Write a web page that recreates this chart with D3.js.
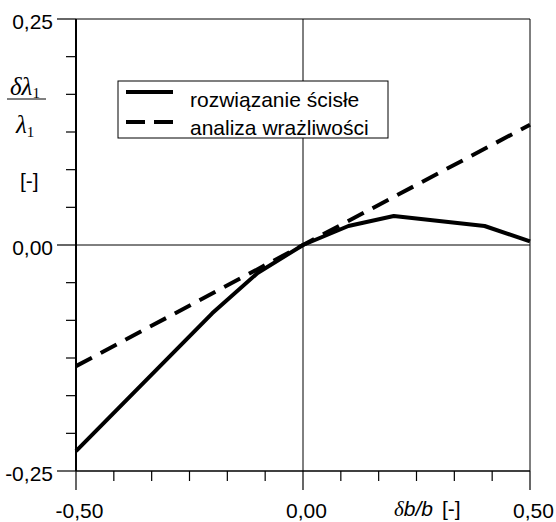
<!DOCTYPE html>
<html>
<head>
<meta charset="utf-8">
<script src="https://cdn.jsdelivr.net/npm/d3@7/dist/d3.min.js"></script>
<style>
  html, body { margin: 0; padding: 0; background: #fff; }
  svg { display: block; }
</style>
</head>
<body>
<svg id="chart" width="556" height="522"></svg>
<script>
// Relative change of the first eigenvalue vs. relative change of b
const exactX = [-0.5, -0.2, -0.1, 0.0, 0.1, 0.2, 0.4, 0.5];
const exactY = [-0.228, -0.0756, -0.031, 0.0, 0.021, 0.032, 0.021, 0.004];
const sensX = [-0.5, 0.0, 0.5];
const sensY = [-0.134, 0.0, 0.133];

const legendLabels = ["rozwiązanie ścisłe", "analiza wrażliwości"];
const xMajorTicks = [-0.5, 0.0, 0.5];
const yMajorTicks = [-0.25, 0.0, 0.25];
const minorDivisions = 12;

const svg = d3.select("#chart");
const plotLeft = 76, plotRight = 530, plotTop = 19, plotBottom = 471;

const x = d3.scaleLinear().domain([-0.5, 0.5]).range([plotLeft, plotRight]);
const y = d3.scaleLinear().domain([-0.25, 0.25]).range([plotBottom, plotTop]);

const fmt = v => d3.format(".2f")(v).replace(".", ",").replace("−", "-");
const sans = "'Liberation Sans', Arial, sans-serif";
const serif = "'Liberation Serif', 'Times New Roman', serif";
const fontSize = 21;

const xMinor = d3.range(minorDivisions + 1).map(i => -0.5 + i / minorDivisions);
const yMinor = d3.range(minorDivisions + 1).map(i => -0.25 + i * 0.5 / minorDivisions);

const g = svg.append("g");

// frame
g.append("line").attr("x1", x(-0.5)).attr("x2", x(0.5)).attr("y1", y(0.25)).attr("y2", y(0.25))
  .attr("stroke", "#000").attr("stroke-width", 1);
g.append("line").attr("x1", x(0.5)).attr("x2", x(0.5)).attr("y1", y(0.25)).attr("y2", y(-0.25))
  .attr("stroke", "#000").attr("stroke-width", 1);
// zero lines
g.append("line").attr("x1", x(-0.5)).attr("x2", x(0.5)).attr("y1", y(0)).attr("y2", y(0))
  .attr("stroke", "#000").attr("stroke-width", 1);
g.append("line").attr("x1", x(0)).attr("x2", x(0)).attr("y1", y(0.25)).attr("y2", y(-0.25))
  .attr("stroke", "#000").attr("stroke-width", 1);

// x ticks
g.selectAll(".xt").data(xMinor).join("line")
  .attr("x1", d => x(d)).attr("x2", d => x(d))
  .attr("y1", plotBottom)
  .attr("y2", (d, i) => plotBottom + (i % 6 === 0 ? 19 : 10))
  .attr("stroke", "#000").attr("stroke-width", 1.2);
// y ticks
g.selectAll(".yt").data(yMinor).join("line")
  .attr("y1", d => y(d)).attr("y2", d => y(d))
  .attr("x1", plotLeft)
  .attr("x2", (d, i) => plotLeft - (i % 6 === 0 ? 19 : 10))
  .attr("stroke", "#000").attr("stroke-width", 1.2);

// axes
g.append("line").attr("x1", plotLeft).attr("x2", plotLeft).attr("y1", plotTop).attr("y2", plotBottom)
  .attr("stroke", "#000").attr("stroke-width", 2);
g.append("line").attr("x1", plotLeft).attr("x2", plotRight).attr("y1", plotBottom).attr("y2", plotBottom)
  .attr("stroke", "#000").attr("stroke-width", 1.5);

// tick labels
g.selectAll(".xl").data(xMajorTicks).join("text")
  .attr("x", d => x(d) + 3.5).attr("y", 518)
  .attr("text-anchor", "middle")
  .attr("font-family", sans).attr("font-size", fontSize)
  .text(fmt);
g.selectAll(".yl").data(yMajorTicks).join("text")
  .attr("x", 53).attr("y", d => y(d) + 9.5)
  .attr("text-anchor", "end")
  .attr("font-family", sans).attr("font-size", fontSize)
  .text(fmt);

// x axis title
const xt = g.append("text").attr("x", 394).attr("y", 516)
  .attr("font-size", fontSize).attr("font-style", "italic");
xt.append("tspan").attr("font-family", serif).text("δ");
xt.append("tspan").attr("font-family", sans).text("b/b");
xt.append("tspan").attr("font-family", sans).attr("font-style", "normal").attr("x", 442).text("[-]");

// y axis title: fraction
const num = g.append("text").attr("x", 10).attr("y", 95)
  .attr("font-family", serif).attr("font-size", 25).attr("font-style", "italic");
num.append("tspan").text("δλ");
num.append("tspan").attr("font-size", 15).attr("font-style", "normal")
  .attr("dy", 3).text("1");
g.append("line").attr("x1", 7).attr("x2", 46).attr("y1", 99).attr("y2", 99)
  .attr("stroke", "#000").attr("stroke-width", 1);
const den = g.append("text").attr("x", 16).attr("y", 133)
  .attr("font-family", serif).attr("font-size", 25).attr("font-style", "italic");
den.append("tspan").text("λ");
den.append("tspan").attr("font-size", 15).attr("font-style", "normal")
  .attr("dy", 4).text("1");
g.append("text").attr("x", 20).attr("y", 188)
  .attr("font-family", sans).attr("font-size", fontSize).text("[-]");

// data lines
const line = d3.line().x(d => x(d[0])).y(d => y(d[1]));
const exact = exactX.map((v, i) => [v, exactY[i]]);
const sens = sensX.map((v, i) => [v, sensY[i]]);

g.append("path").datum(sens).attr("d", line)
  .attr("fill", "none").attr("stroke", "#000").attr("stroke-width", 4)
  .attr("stroke-dasharray", "18,10");
g.append("path").datum(exact).attr("d", line)
  .attr("fill", "none").attr("stroke", "#000").attr("stroke-width", 4)
  .attr("stroke-linejoin", "round");

// legend
const lg = g.append("g");
lg.append("rect").attr("x", 118).attr("y", 81).attr("width", 270).attr("height", 57)
  .attr("fill", "#fff").attr("stroke", "#000").attr("stroke-width", 1);
const legendRows = [
  { y: 92, dash: null, ty: 106.5 },
  { y: 122, dash: "19,9", ty: 135 }
];
legendRows.forEach((r, i) => {
  lg.append("line").attr("x1", 126).attr("x2", 173).attr("y1", r.y).attr("y2", r.y)
    .attr("stroke", "#000").attr("stroke-width", 4)
    .attr("stroke-dasharray", r.dash);
  lg.append("text").attr("x", 190).attr("y", r.ty)
    .attr("font-family", sans).attr("font-size", fontSize)
    .text(legendLabels[i]);
});
</script>
</body>
</html>
